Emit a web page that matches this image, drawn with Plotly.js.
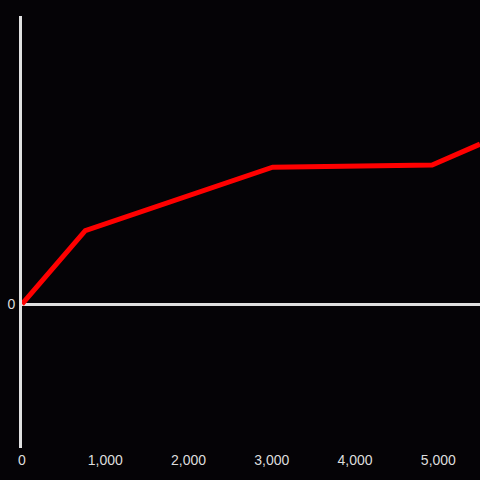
<!DOCTYPE html>
<html>
<head>
<meta charset="utf-8">
<script src="https://cdn.plot.ly/plotly-3.0.1.min.js"></script>
<style>html,body{margin:0;padding:0;background:#050306;}#chart{width:480px;height:480px;}</style>
</head>
<body>
<div id="chart"></div>
<script>
const xValues = [0, 760, 3010, 4925, 5500];
const yValues = [0, 0.51, 0.95, 0.965, 1.11];
const xTickVals = [0, 1000, 2000, 3000, 4000, 5000];
const xTickText = ['0', '1,000', '2,000', '3,000', '4,000', '5,000'];
const yTickVals = [0];
const yTickText = ['0'];

const trace = {
  x: xValues,
  y: yValues,
  type: 'scatter',
  mode: 'lines',
  line: {color: '#ff0000', width: 5},
  hoverinfo: 'skip'
};

const layout = {
  width: 480,
  height: 480,
  paper_bgcolor: '#050306',
  plot_bgcolor: '#050306',
  margin: {l: 22, r: 0, t: 16, b: 32},
  showlegend: false,
  font: {family: 'Liberation Sans, Arial, sans-serif', size: 14, color: '#dddddd'},
  xaxis: {
    range: [0, 5500],
    tickvals: xTickVals,
    ticktext: xTickText,
    showgrid: false,
    zeroline: false,
    showline: false,
    ticks: '',
    ticklabelstandoff: 2,
    tickfont: {size: 14, color: '#dddddd'}
  },
  yaxis: {
    range: [-1, 2],
    tickvals: yTickVals,
    ticktext: yTickText,
    showgrid: false,
    zeroline: true,
    zerolinecolor: '#e0e0e0',
    zerolinewidth: 3,
    showline: true,
    linecolor: '#e0e0e0',
    linewidth: 3,
    ticks: '',
    ticklabelstandoff: 1,
    tickfont: {size: 14, color: '#dddddd'}
  }
};

Plotly.newPlot('chart', [trace], layout, {displayModeBar: false, staticPlot: true});
</script>
</body>
</html>
